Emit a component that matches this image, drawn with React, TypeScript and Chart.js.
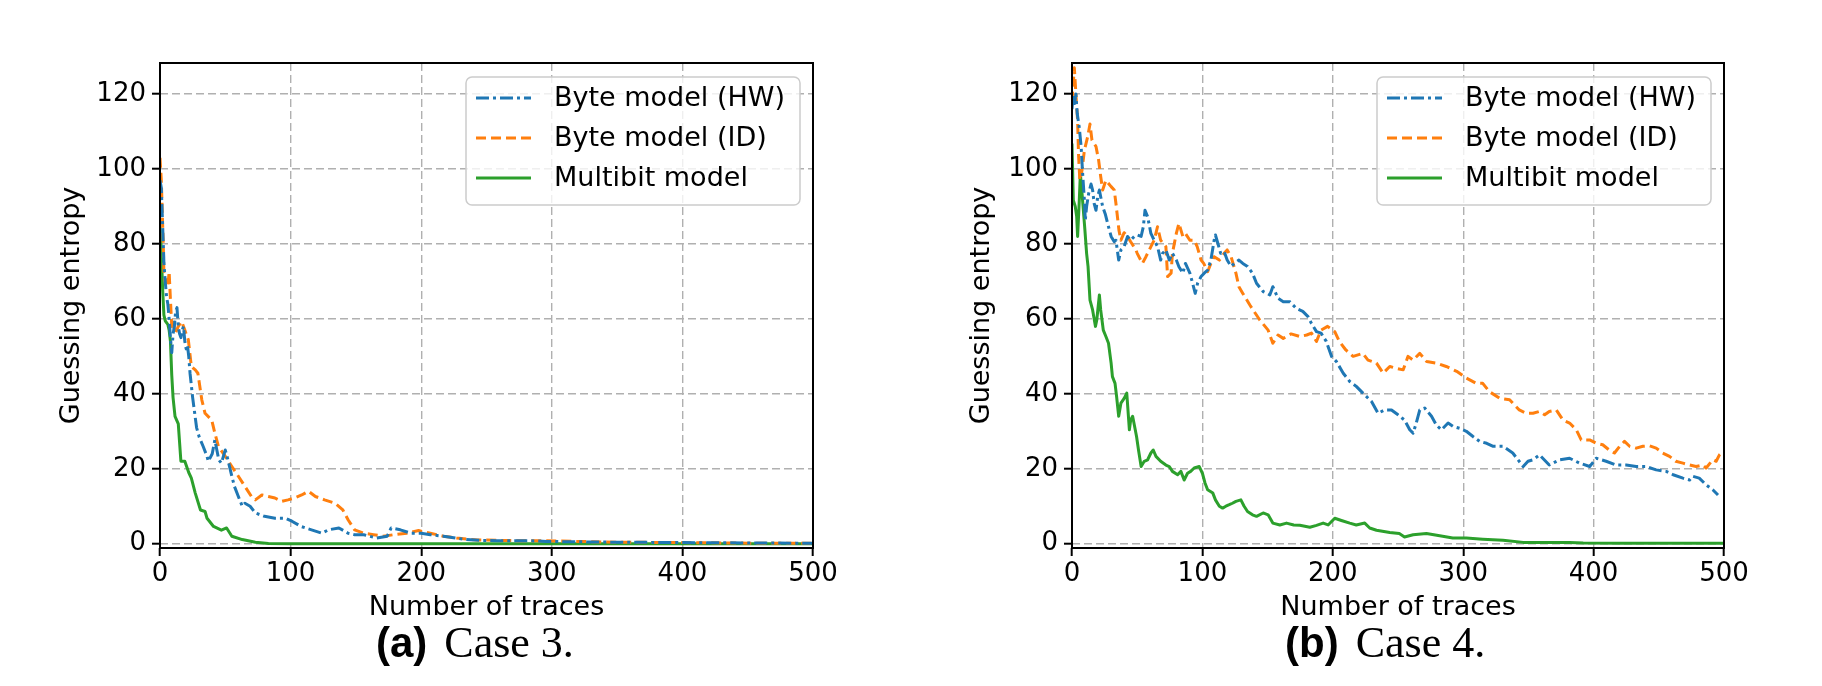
import React, { useEffect, useRef } from "react";
import { Chart, registerables } from "chart.js";

Chart.register(...registerables);

// ---------- shared axis / legend data ----------
const X_TICKS = [0, 100, 200, 300, 400, 500];
const Y_TICKS = [0, 20, 40, 60, 80, 100, 120];
const SERIES_LABELS = ["Byte model (HW)", "Byte model (ID)", "Multibit model"];
const X_TITLE = "Number of traces";
const Y_TITLE = "Guessing entropy";

// ---------- (a) Case 3 ----------
const caseA_hwX = [0, 1, 2, 3, 4, 5, 6, 7, 8, 9, 10, 11, 12, 13, 14, 15, 16, 17, 18, 19, 20, 21, 22, 23, 25, 28, 30, 33, 36, 37, 40, 42, 45, 47, 50, 52, 55, 57, 60, 63, 65, 69, 73, 80, 88, 96, 101, 108, 116, 124, 129, 137, 144, 149, 156, 166, 174, 177, 184, 192, 200, 207, 217, 232, 245, 258, 283, 296, 320, 350, 400, 450, 500];
const caseA_hwY = [97, 95, 85, 75, 70, 66, 64, 60, 55, 51, 56, 58, 62, 63, 58, 56, 55, 57, 58, 54, 52, 53, 50, 45.5, 39, 31, 28.5, 26, 23.3, 22, 24, 27.7, 22.4, 21.5, 25, 22.4, 18, 15.3, 12.6, 10, 10.8, 10, 8.2, 7.3, 6.8, 6.8, 6, 4.6, 3.7, 2.8, 3.7, 4.2, 2.8, 2.4, 2.4, 1.5, 2, 4.2, 3.7, 2.8, 2.8, 2.4, 2, 1.2, 0.9, 0.8, 0.8, 0.6, 0.5, 0.4, 0.3, 0.2, 0.1];

const caseA_idX = [0, 1, 2, 2.5, 3, 4, 5, 6, 7, 8, 9, 10, 11.5, 14, 16.6, 19, 21.7, 24, 27, 29, 32, 34.5, 39.6, 42, 44.7, 50, 55, 60, 65, 70, 73, 78, 83, 88, 93, 98, 103, 108.5, 113.7, 119, 126, 134, 140, 144, 149, 156, 163.5, 171, 179, 189, 198, 207, 217, 227, 243, 258, 273, 294, 320, 350, 400, 450, 500];
const caseA_idY = [103, 97, 85.5, 80, 72, 70, 70.4, 68.6, 72.6, 65, 58, 59.7, 56, 58, 59.3, 57, 54.4, 47.3, 46.4, 45.5, 38.4, 34.8, 33, 29.5, 26, 23.3, 20.6, 18, 15.3, 12.6, 11.7, 13, 12.6, 12.2, 11.3, 11.7, 12.2, 13, 14, 12.6, 11.7, 10.8, 9, 6.4, 3.7, 2.8, 2.4, 2, 2.4, 2.8, 3.5, 2.8, 2, 1.5, 1, 0.9, 0.8, 0.8, 0.6, 0.4, 0.3, 0.15, 0.1];

const caseA_mbX = [0, 1, 2, 3, 4, 5, 6, 7, 8, 9, 10, 11.5, 14, 16, 19, 22, 24, 27, 31, 34.5, 36, 41, 47, 51, 55, 63, 73, 83, 100, 200, 300, 400, 500];
const caseA_mbY = [85, 78, 68, 61, 59.5, 59, 58.5, 57, 54, 45, 39, 34, 32, 22, 22, 19, 17.5, 13.5, 9, 8.6, 6.8, 4.6, 3.6, 4.2, 2, 1.1, 0.4, 0.05, 0, 0, 0, 0, 0];

// ---------- (b) Case 4 ----------
const caseB_hwX = [0, 1, 2, 3, 4, 5.6, 7, 8, 9.5, 10.2, 11.2, 12.8, 14.6, 15.8, 17, 18.4, 19.7, 21, 22, 23.5, 25.5, 27.3, 30, 32.4, 33.7, 35.8, 37.5, 40, 42.6, 45, 47.8, 50, 53, 54.7, 56, 58, 60.5, 63, 65.6, 68, 69.5, 72, 74.6, 77, 80, 82, 85, 87, 90.4, 92.5, 94.5, 96.3, 99, 101.4, 104, 106.5, 109, 110, 112, 114, 116.7, 119, 122, 124.4, 128, 131, 134.6, 138.4, 141.5, 146.6, 151.7, 154, 158, 162, 167, 172, 177, 181, 183.6, 187.5, 191, 195, 199, 202.8, 208, 213, 218, 224.5, 229.6, 234.7, 239.8, 245, 250, 255, 259, 261.6, 264, 266.7, 270.5, 275.7, 279.4, 283.3, 288.4, 292.2, 297.3, 302.4, 307.5, 312.6, 318, 323, 330.5, 338, 346, 349.7, 353.5, 358.6, 366, 373.9, 381.6, 389.3, 397, 402, 409.6, 417.4, 425, 432.7, 440, 448, 455.7, 461, 468.5, 473.6, 476, 481, 486.3, 491.4, 495.4];
const caseB_hwY = [116, 120, 117.5, 120, 114.8, 111, 106, 99.7, 91.7, 86.4, 90, 93.5, 96, 94.4, 90.8, 89, 92.6, 94.4, 92.6, 90, 88, 85.5, 82, 80.6, 81, 75.7, 78.4, 79.3, 82, 81, 82, 82.4, 82, 84.6, 89, 87.3, 82.8, 81, 79.3, 75.7, 77.5, 78.4, 75.7, 77.5, 75.7, 73.9, 72.2, 74.8, 72.2, 69.5, 66.8, 69.5, 71.3, 72.2, 73, 75.7, 81, 82.4, 80, 77.5, 78, 75.7, 74, 74.8, 75.7, 74.8, 74, 72.2, 69.5, 67.3, 66.4, 68.6, 65.5, 64.6, 64.6, 62.8, 62, 60.6, 58.8, 56.6, 56.2, 54, 50, 48.6, 45.5, 43.3, 42, 39.7, 38, 34.8, 35.7, 35.7, 34.4, 33, 30.4, 29.5, 32.2, 35.7, 36.2, 34, 31.7, 30.4, 32.2, 31.3, 30.8, 30, 28.6, 27.3, 26.8, 26, 26, 24.2, 20.6, 22, 22.4, 23.7, 21, 22.4, 22.8, 21.5, 20.6, 22.8, 22, 21, 21, 20.6, 20.6, 19.7, 19.3, 18.4, 17.5, 17, 18, 17.5, 15.7, 14.4, 13];

const caseB_idX = [0, 1.8, 3, 4.3, 5, 6, 7.7, 9.5, 12, 13.8, 15.3, 18.4, 20.4, 22, 23.5, 26, 30, 32.4, 33.7, 36, 37.5, 40, 42.6, 45, 49, 50, 54, 56.7, 60.5, 63, 65.6, 68, 72, 73.3, 76, 77, 80, 82, 85, 87, 90.4, 93.7, 96, 99, 101, 104, 106.5, 109, 113, 116.7, 119, 122, 125.7, 128, 131, 136.4, 144, 150.4, 154, 158, 162, 168, 174.7, 180, 183.6, 187.5, 191, 196, 201.5, 205, 210, 215.6, 223, 227, 233.5, 238.6, 243.7, 248.8, 254, 257.7, 261.6, 266.7, 272, 279.4, 287, 295, 302.4, 310, 315, 320, 328, 335.6, 343, 348.4, 353.5, 358.6, 362.5, 366, 371.4, 376.5, 381.6, 386.7, 390.5, 397, 402, 407, 412, 416, 420, 423.7, 427.6, 432.7, 437.8, 443, 448, 453, 458.2, 463, 468.5, 473.6, 478.6, 483.7, 486.3, 491.4, 494, 496.5, 498];
const caseB_idY = [118, 127, 120, 113, 104, 97, 99.7, 105, 108.6, 112, 107.7, 106, 102.4, 98, 94.4, 97, 95.3, 94.4, 90.8, 83.7, 81, 83, 82, 80.6, 78.4, 77.5, 74.8, 76.6, 79.3, 81, 84.6, 81, 79.3, 71.3, 72.2, 77.5, 82.8, 85.5, 82, 82.8, 81, 81, 79.3, 75.7, 74.8, 72.6, 74.8, 76.6, 75.7, 77.5, 78.4, 76.6, 72.2, 68.6, 66.8, 63.7, 59.7, 57, 53.5, 55.7, 54.8, 56, 55.3, 55.7, 56.2, 54, 57, 58, 56.6, 54, 51.7, 50, 50.8, 49, 48.2, 45.5, 47.3, 46.8, 46.4, 50, 49, 50.8, 48.6, 48.2, 47.3, 46, 44.2, 42.8, 42.8, 40.6, 38.8, 38.4, 35.7, 34.8, 34.8, 35.3, 34.4, 35.3, 35.7, 33, 32.2, 30.4, 27.7, 27.7, 26.8, 26.4, 25, 24.2, 26, 27.3, 26, 25.5, 26, 26.1, 25.5, 24.2, 23.3, 22, 21.5, 21, 20.6, 21, 20.2, 22.4, 22, 23.7, 24.2];

const caseB_mbX = [0, 1, 2.5, 3.6, 4.3, 5.6, 6.4, 7.7, 8.7, 9.7, 11.2, 12.3, 13.8, 15.8, 18, 19, 21, 22, 24, 26, 28, 30, 31, 33, 34.2, 35.8, 37.5, 40, 42, 44, 45, 46.5, 47.8, 49.5, 51, 53, 55.4, 58, 60.5, 62.3, 64.4, 68, 72, 74.6, 77, 81, 83.5, 86, 88.6, 91, 93.7, 97.6, 100, 102, 104, 108, 110, 113, 115.5, 118, 120.6, 123, 125.7, 129.5, 132, 134.6, 138.4, 141.5, 146.6, 150.4, 154, 159.4, 164.5, 170, 174.7, 182.4, 187.5, 192.6, 196.4, 201.5, 206.6, 213, 218, 224.5, 228.3, 233.5, 243.7, 251, 255, 261.6, 271.8, 282, 292, 302.4, 315, 330.5, 346, 361, 381.6, 392, 420, 460, 500];
const caseB_mbY = [106.8, 91.7, 90, 87.3, 82, 91.7, 98.8, 93.5, 89, 84.6, 77.5, 74, 65, 62.4, 58, 59.7, 66.4, 62.4, 57, 55.3, 53.5, 48.2, 44.6, 42.8, 39.3, 34, 37.5, 38.8, 40.2, 30.4, 33, 34, 31.7, 28.6, 25, 20.6, 22, 22.4, 24.2, 25, 23.3, 22, 21, 20.6, 19.3, 18.4, 19.3, 17, 18.8, 19.3, 20.2, 20.6, 18.8, 16.2, 14.4, 13.5, 11.7, 10, 9.5, 10, 10.4, 10.8, 11.3, 11.7, 10, 8.6, 7.7, 7.3, 8.2, 7.7, 5.5, 5, 5.5, 5, 4.9, 4.4, 4.9, 5.5, 5, 6.8, 6.2, 5.5, 5, 5.5, 4.2, 3.6, 3, 2.7, 1.8, 2.4, 2.7, 2.1, 1.5, 1.5, 1.2, 0.9, 0.35, 0.35, 0.35, 0.2, 0.15, 0.1, 0.1];

// ---------- styles ----------
const COLORS = ["#1f77b4", "#ff7f0e", "#2ca02c"];
const DASHES: number[][] = [[13, 4, 3, 4], [10, 5], []];
const FONT = "'DejaVu Sans', sans-serif";
const H = 686;

type PanelProps = {
  left: number;
  width: number;
  axisLeft: number;
  axisRight: number;
  yTitlePad: number;
  series: { x: number[]; y: number[] }[];
};

function Panel({ left, width, axisLeft, axisRight, yTitlePad, series }: PanelProps) {
  const ref = useRef<HTMLCanvasElement>(null);
  useEffect(() => {
    const canvas = ref.current;
    if (!canvas) return;
    const datasets = series.map((s, i) => ({
      label: SERIES_LABELS[i],
      data: s.x.map((x, j) => ({ x, y: s.y[j] })),
      borderColor: COLORS[i],
      backgroundColor: COLORS[i],
      borderWidth: 3,
      borderDash: DASHES[i],
      borderCapStyle: "butt" as const,
      borderJoinStyle: "round" as const,
      pointRadius: 0,
      pointHoverRadius: 0,
      tension: 0,
      fill: false,
    }));

    const frame = {
      id: "mplFrame",
      afterDatasetsDraw(chart: any) {
        const { ctx, chartArea: a } = chart;
        ctx.save();
        ctx.setLineDash([]);
        ctx.strokeStyle = "#000";
        ctx.lineWidth = 2;
        ctx.strokeRect(a.left, a.top, a.right - a.left, a.bottom - a.top);
        // legend
        const bw = 334, bh = 128;
        const bx = a.right - 13 - bw;
        const by = a.top + 14;
        ctx.beginPath();
        ctx.roundRect(bx, by, bw, bh, 6);
        ctx.fillStyle = "rgba(255,255,255,0.8)";
        ctx.fill();
        ctx.strokeStyle = "#cccccc";
        ctx.lineWidth = 1.5;
        ctx.stroke();
        chart.data.datasets.forEach((ds: any, i: number) => {
          const cy = by + 21 + i * 40;
          ctx.beginPath();
          ctx.setLineDash(ds.borderDash || []);
          ctx.strokeStyle = ds.borderColor;
          ctx.lineWidth = 3;
          ctx.lineCap = "butt";
          ctx.moveTo(bx + 10, cy);
          ctx.lineTo(bx + 65, cy);
          ctx.stroke();
          ctx.setLineDash([]);
          ctx.fillStyle = "#000";
          ctx.font = `27px ${FONT}`;
          ctx.textBaseline = "middle";
          ctx.textAlign = "left";
          ctx.fillText(ds.label, bx + 88, cy + 1);
        });
        ctx.restore();
      },
    };

    const gridOpts = {
      color: "#b0b0b0",
      lineWidth: 1.4,
      tickColor: "#000",
      tickWidth: 2,
      tickLength: 8,
      drawTicks: true,
    };

    const chart = new Chart(canvas, {
      type: "line",
      data: { datasets },
      plugins: [frame],
      options: {
        animation: false,
        responsive: false,
        devicePixelRatio: 1,
        parsing: false as any,
        normalized: true,
        events: [],
        layout: { padding: { left: 0, top: 63, right: width - axisRight, bottom: H - 548 - 80 } },
        plugins: { legend: { display: false }, tooltip: { enabled: false } },
        scales: {
          x: {
            type: "linear",
            min: 0,
            max: 500,
            afterBuildTicks: (s: any) => {
              s.ticks = X_TICKS.map((v) => ({ value: v }));
            },
            afterFit: (s: any) => {
              s.height = 80;
            },
            grid: gridOpts,
            border: { display: false, dash: [8, 4] },
            ticks: {
              color: "#000",
              font: { family: FONT, size: 26, lineHeight: 1.2 },
              padding: 3,
              maxRotation: 0,
              autoSkip: false,
            },
            title: {
              display: true,
              text: X_TITLE,
              color: "#000",
              font: { family: FONT, size: 27, lineHeight: 1.2 },
              padding: { top: 0, bottom: 4 },
            },
          },
          y: {
            type: "linear",
            min: -1.15,
            max: 128.3,
            afterBuildTicks: (s: any) => {
              s.ticks = Y_TICKS.map((v) => ({ value: v }));
            },
            afterFit: (s: any) => {
              s.width = axisLeft;
            },
            grid: gridOpts,
            border: { display: false, dash: [8, 4] },
            ticks: {
              color: "#000",
              font: { family: FONT, size: 26, lineHeight: 1.2 },
              padding: 6,
              autoSkip: false,
            },
            title: {
              display: true,
              text: Y_TITLE,
              color: "#000",
              font: { family: FONT, size: 27, lineHeight: 1.2 },
              padding: { top: yTitlePad, bottom: 0 },
            },
          },
        },
      } as any,
    });
    return () => chart.destroy();
  }, []);
  return (
    <canvas
      ref={ref}
      width={width}
      height={H}
      style={{ position: "absolute", left, top: 0, width, height: H }}
    />
  );
}

function Caption({ left, tag, text }: { left: number; tag: string; text: string }) {
  return (
    <div
      style={{
        position: "absolute",
        left,
        top: 621,
        whiteSpace: "nowrap",
        lineHeight: "44px",
        color: "#000",
      }}
    >
      <span style={{ fontFamily: "'Liberation Sans', Arial, sans-serif", fontWeight: 700, fontSize: 42 }}>{tag}</span>
      <span style={{ fontFamily: "'Liberation Serif', 'Times New Roman', serif", fontSize: 44, marginLeft: 17 }}>{text}</span>
    </div>
  );
}

export default function App() {
  return (
    <div
      style={{
        position: "absolute",
        left: 0,
        top: 0,
        width: 1822,
        height: H,
        background: "#fff",
        overflow: "hidden",
      }}
    >
      <Panel
        left={0}
        width={900}
        axisLeft={160}
        axisRight={813}
        yTitlePad={56}
        series={[
          { x: caseA_hwX, y: caseA_hwY },
          { x: caseA_idX, y: caseA_idY },
          { x: caseA_mbX, y: caseA_mbY },
        ]}
      />
      <Panel
        left={900}
        width={922}
        axisLeft={172}
        axisRight={824}
        yTitlePad={66}
        series={[
          { x: caseB_hwX, y: caseB_hwY },
          { x: caseB_idX, y: caseB_idY },
          { x: caseB_mbX, y: caseB_mbY },
        ]}
      />
      <Caption left={376} tag="(a)" text="Case 3." />
      <Caption left={1285} tag="(b)" text="Case 4." />
    </div>
  );
}
